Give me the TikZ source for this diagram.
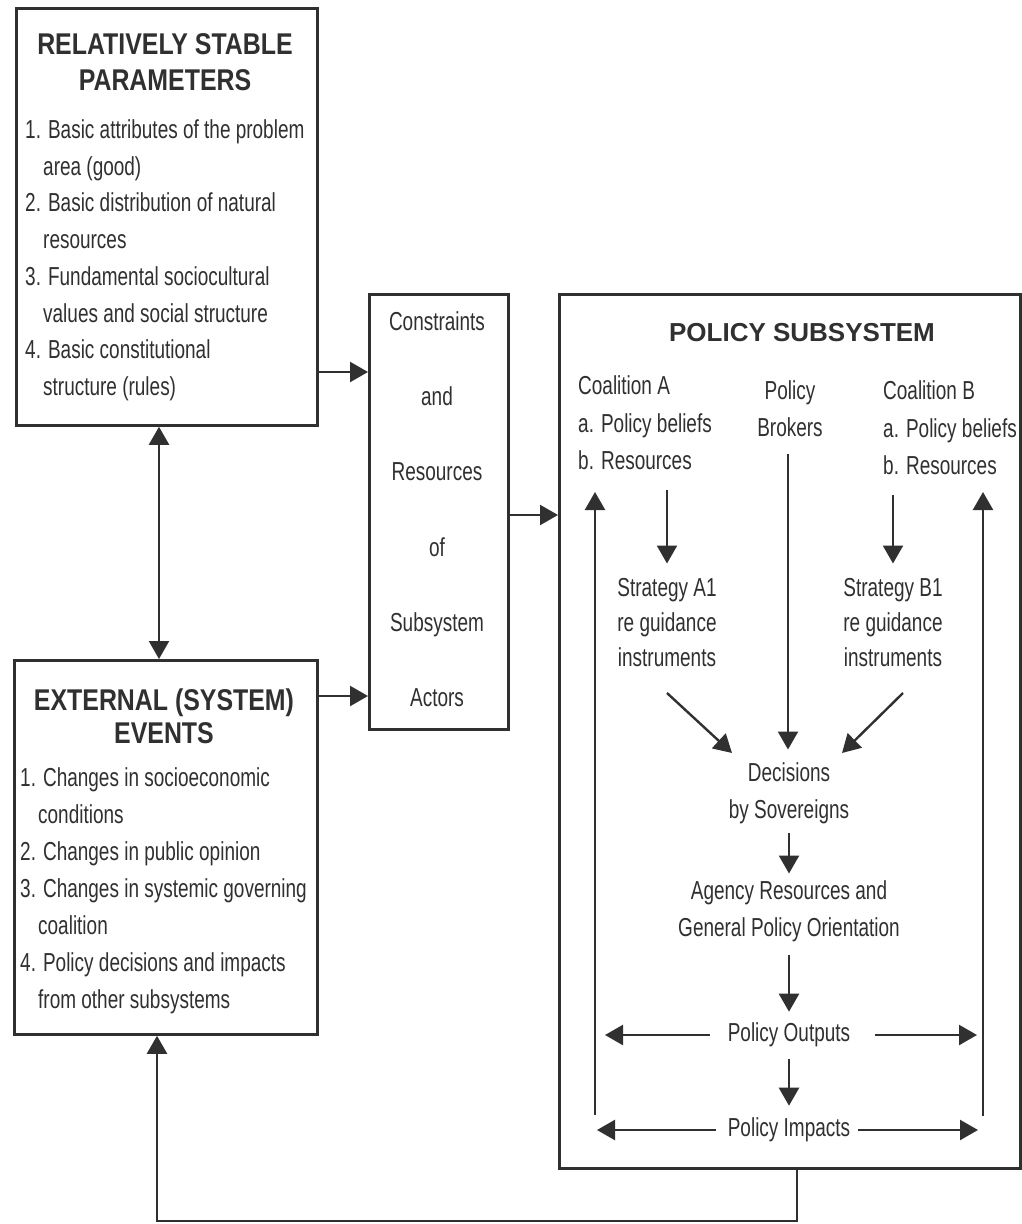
\documentclass[tikz,border=0pt]{standalone}
\usepackage{fontspec}
\setmainfont{Liberation Sans}[FakeStretch=0.73]
\newfontfamily\headfont{Liberation Sans}[FakeStretch=0.83]
\newfontfamily\polfont{Liberation Sans}
\usetikzlibrary{arrows.meta}
\definecolor{ink}{HTML}{303030}
\tikzset{
  box/.style={draw=ink,line width=2.8pt,inner sep=0pt},
  txt/.style={inner sep=0pt,text=ink,font=\fontsize{26}{36.7}\selectfont},
  head/.style={inner sep=0pt,text=ink,align=center,font=\headfont\bfseries\fontsize{30}{36}\selectfont},
  link/.style={draw=ink,line width=2.4pt,-{Triangle[length=18pt,width=20pt]}},
  dlink/.style={link,{Triangle[length=18pt,width=20pt]}-{Triangle[length=18pt,width=20pt]}}
}
\begin{document}
\begin{tikzpicture}[x=1pt,y=-1pt]
\fill[white](0,0)rectangle(1022,1224);
\useasboundingbox(0,0)rectangle(1022,1224);
% boxes
\node[box,anchor=north west,minimum width=301pt,minimum height=417pt](stable)at(15,7){};
\node[box,anchor=north west,minimum width=303pt,minimum height=374pt](events)at(13,659){};
\node[box,anchor=north west,minimum width=139pt,minimum height=435pt](cons)at(368,293){};
\node[box,anchor=north west,minimum width=461pt,minimum height=874pt](policy)at(558,293){};
% left column
\node[head,anchor=north](stabletitle)at(165,33){RELATIVELY STABLE\\PARAMETERS};
\node[txt,align=left,anchor=north west](stablelist)at(25,119.5){1. Basic attributes of the problem\\\hspace*{18pt}area (good)\\2. Basic distribution of natural\\\hspace*{18pt}resources\\3. Fundamental sociocultural\\\hspace*{18pt}values and social structure\\4. Basic constitutional\\\hspace*{18pt}structure (rules)};
\node[head,anchor=north,font=\headfont\bfseries\fontsize{30}{33}\selectfont](eventstitle)at(164,689){EXTERNAL (SYSTEM)\\EVENTS};
\node[txt,align=left,anchor=north west,font=\fontsize{26}{37}\selectfont](eventslist)at(20,767.5){1. Changes in socioeconomic\\\hspace*{18pt}conditions\\2. Changes in public opinion\\3. Changes in systemic governing\\\hspace*{18pt}coalition\\4. Policy decisions and impacts\\\hspace*{18pt}from other subsystems};
\node[txt,align=center,anchor=north,font=\fontsize{26}{75.2}\selectfont](constext)at(437,311.5){Constraints\\and\\Resources\\of\\Subsystem\\Actors};
% policy subsystem
\node[inner sep=0pt,text=ink,font=\polfont\bfseries\fontsize{26}{30}\selectfont](ptitle)at(802,333){POLICY SUBSYSTEM};
\node[txt,align=left,anchor=north west,font=\fontsize{26}{37.5}\selectfont](coalA)at(578,375.5){Coalition A\\a. Policy beliefs\\b. Resources};
\node[txt,align=center,anchor=north,font=\fontsize{26}{37}\selectfont](brokers)at(790,380.5){Policy\\Brokers};
\node[txt,align=left,anchor=north west,font=\fontsize{26}{37.5}\selectfont](coalB)at(883,380.5){Coalition B\\a. Policy beliefs\\b. Resources};
\node[txt,align=center,anchor=north,font=\fontsize{26}{35}\selectfont](stratA)at(667,578.5){Strategy A1\\re guidance\\instruments};
\node[txt,align=center,anchor=north,font=\fontsize{26}{35}\selectfont](stratB)at(893,578.5){Strategy B1\\re guidance\\instruments};
\node[txt,align=center,anchor=north](decide)at(789,762.5){Decisions\\by Sovereigns};
\node[txt,align=center,anchor=north](agency)at(789,880.5){Agency Resources and\\General Policy Orientation};
\node[txt](outputs)at(789,1035){Policy Outputs};
\node[txt](impacts)at(789,1130){Policy Impacts};
% helper points
\coordinate(rowA)at(0,372);
\coordinate(rowB)at(0,696);
\coordinate(rowC)at(0,515);
\coordinate(colX)at(159,0);
\coordinate(stem)at(797,1221);
\coordinate(corner)at(157,1221);
\coordinate(aTail)at(667,693);
\coordinate(aTip)at(732,753);
\coordinate(bTail)at(903,693);
\coordinate(bTip)at(842,753);
\coordinate(fbA)at(595,1115);
\coordinate(fbAtip)at(595,492);
\coordinate(fbB)at(983,1116);
\coordinate(fbBtip)at(983,492);
\coordinate(outL)at(605,1035);
\coordinate(outR)at(977,1035);
\coordinate(impL)at(597,1130);
\coordinate(impR)at(978,1130);
% links outside
\draw[link](stable.east|-rowA)--(cons.west|-rowA);
\draw[link](events.east|-rowB)--(cons.west|-rowB);
\draw[link](cons.east|-rowC)--(policy.west|-rowC);
\draw[dlink](stable.south-|colX)--(events.north-|colX);
\draw[link](policy.south-|stem)--(stem)--(corner)--(events.south-|corner);
% links inside
\draw[link,shorten <=20pt,shorten >=15pt](stratA.north|-coalA.south)--(stratA.north);
\draw[link,shorten <=20pt,shorten >=15pt](stratB.north|-coalB.south)--(stratB.north);
\draw[link,shorten <=17pt,shorten >=13pt]([xshift=-2pt]brokers.south)--([xshift=-1pt]decide.north);
\draw[link](aTail)--(aTip);
\draw[link](bTail)--(bTip);
\draw[link,shorten <=9pt,shorten >=7pt](decide.south)--(agency.north);
\draw[link,shorten <=13pt,shorten >=11pt](agency.south)--(outputs.north);
\draw[link,shorten <=12pt,shorten >=12pt](outputs.south)--(impacts.north);
\draw[link,shorten <=18pt](outputs.west)--(outL);
\draw[link,shorten <=25pt](outputs.east)--(outR);
\draw[link,shorten <=12pt](impacts.west)--(impL);
\draw[link,shorten <=8pt](impacts.east)--(impR);
\draw[link](fbA)--(fbAtip);
\draw[link](fbB)--(fbBtip);
\end{tikzpicture}
\end{document}
